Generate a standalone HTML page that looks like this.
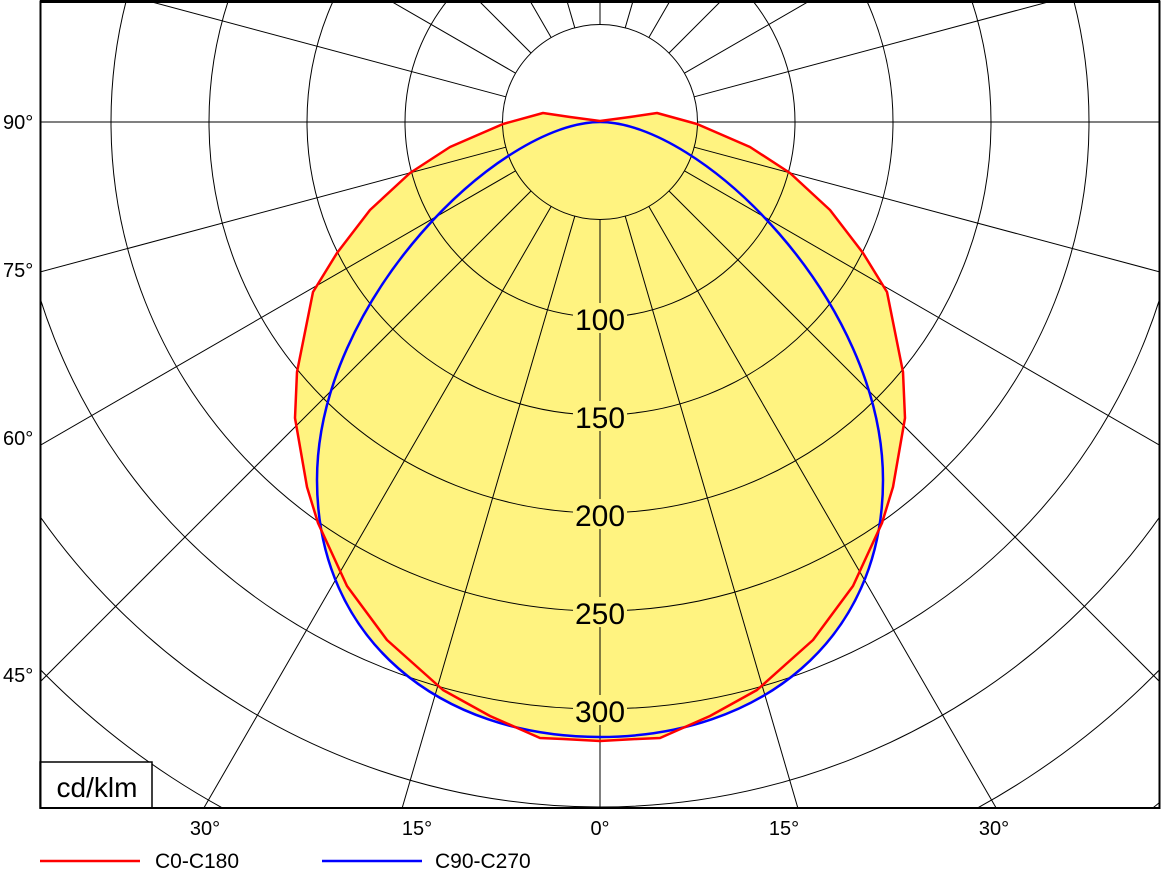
<!DOCTYPE html>
<html><head><meta charset="utf-8"><style>
html,body{margin:0;padding:0;background:#fff;overflow:hidden;width:1161px;height:875px;}
svg{display:block;font-family:"Liberation Sans",sans-serif;}
</style></head><body>
<svg width="1161" height="875" viewBox="0 0 1161 875" xmlns="http://www.w3.org/2000/svg">
<defs><clipPath id="c"><rect x="40" y="0" width="1120" height="808"/></clipPath></defs>
<g clip-path="url(#c)">
<polygon fill="#FFF380" points="600,121 630,117 657,113 697,124 750,147 790,173 830,210 863,253 887,292 903,372 905,418 893,487 882,523 853,586 813,640 757,690 710,716 660,738 637,739 600,741 563,739 540,738 490,716 443,690 387,640 347,586 318,523 307,487 295,418 297,372 313,292 337,253 370,210 410,173 450,147 503,124 543,113 570,117"/>
<path fill="#FFF380" d="M600,122 C700,122 883,300 883,480 C883,640 760,737 600,737 C440,737 317,640 317,480 C317,300 500,122 600,122Z"/>
<g fill="none" stroke="#000" stroke-width="1">
<circle cx="600" cy="122" r="97.5"/><circle cx="600" cy="122" r="195"/><circle cx="600" cy="122" r="293"/><circle cx="600" cy="122" r="391"/><circle cx="600" cy="122" r="489"/><circle cx="600" cy="122" r="587"/><circle cx="600" cy="122" r="685"/><circle cx="600" cy="122" r="783"/><circle cx="600" cy="122" r="881"/>
<g id="rl">
<line x1="600" y1="219.5" x2="600" y2="1300"/>
<line x1="625.2" y1="216.2" x2="936.4" y2="1283"/>
<line x1="648.8" y1="206.4" x2="1200" y2="1161"/>
<line x1="668.9" y1="190.9" x2="1449" y2="971"/>
<line x1="684.4" y1="170.8" x2="1639" y2="722"/>
<line x1="694.2" y1="147.2" x2="1761" y2="433"/>
<line x1="697.5" y1="122" x2="1800" y2="122"/>
<line x1="694.2" y1="96.8" x2="1761" y2="-189"/>
<line x1="684.4" y1="73.2" x2="1639" y2="-478"/>
<line x1="668.9" y1="53.1" x2="1449" y2="-727"/>
<line x1="648.8" y1="37.6" x2="1200" y2="-917"/>
<line x1="625.2" y1="27.8" x2="936.4" y2="-1039"/>
<line x1="600" y1="24.5" x2="600" y2="-1000"/>
</g>
<use href="#rl" transform="translate(1200,0) scale(-1,1)"/>
</g>
</g>
<path fill="none" stroke="#0000FF" stroke-width="2.5" d="M600,122 C700,122 883,300 883,480 C883,640 760,737 600,737 C440,737 317,640 317,480 C317,300 500,122 600,122Z"/>
<polyline fill="none" stroke="#FF0000" stroke-width="2.5" stroke-linejoin="round" points="600,121 630,117 657,113 697,124 750,147 790,173 830,210 863,253 887,292 903,372 905,418 893,487 882,523 853,586 813,640 757,690 710,716 660,738 637,739 600,741 563,739 540,738 490,716 443,690 387,640 347,586 318,523 307,487 295,418 297,372 313,292 337,253 370,210 410,173 450,147 503,124 543,113 570,117 600,121"/>
<g font-size="30" text-anchor="middle" fill="#000">
<rect x="573" y="303" width="54" height="30" fill="#FFF380"/><text x="600" y="330">100</text>
<rect x="573" y="401" width="54" height="30" fill="#FFF380"/><text x="600" y="428">150</text>
<rect x="573" y="499" width="54" height="30" fill="#FFF380"/><text x="600" y="526">200</text>
<rect x="573" y="597" width="54" height="30" fill="#FFF380"/><text x="600" y="624">250</text>
<rect x="573" y="695" width="54" height="30" fill="#FFF380"/><text x="600" y="722">300</text>
</g>
<rect x="40" y="762" width="112" height="46" fill="#fff" stroke="#000" stroke-width="1.5"/>
<text x="97" y="797" font-size="28" text-anchor="middle">cd/klm</text>
<rect x="40.5" y="1.5" width="1119" height="806.5" fill="none" stroke="#000" stroke-width="2"/>
<line x1="40" y1="1.5" x2="1160" y2="1.5" stroke="#000" stroke-width="3"/>
<g font-size="20" fill="#000">
<text x="3" y="129">90°</text><text x="3" y="277">75°</text><text x="3" y="445">60°</text><text x="3" y="682">45°</text>
</g>
<g font-size="20" fill="#000" text-anchor="middle">
<text x="205" y="835">30°</text><text x="417" y="835">15°</text><text x="600" y="835">0°</text><text x="784" y="835">15°</text><text x="994" y="835">30°</text>
</g>
<line x1="40" y1="861" x2="140" y2="861" stroke="#FF0000" stroke-width="2.5"/>
<text x="155" y="868" font-size="21">C0-C180</text>
<line x1="322" y1="861" x2="422" y2="861" stroke="#0000FF" stroke-width="2.5"/>
<text x="435" y="868" font-size="21">C90-C270</text>
</svg>
</body></html>
